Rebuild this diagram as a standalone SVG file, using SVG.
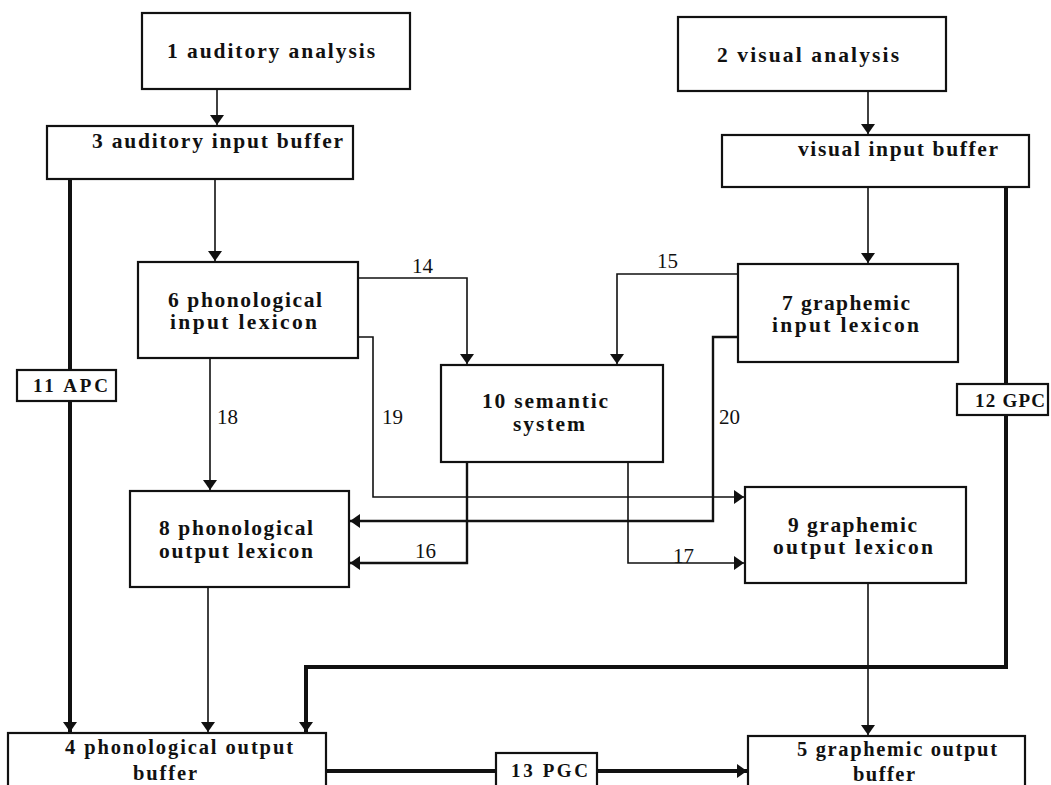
<svg xmlns="http://www.w3.org/2000/svg" width="1051" height="785" viewBox="0 0 1051 785">
  <style>
    .box { fill: #fff; stroke: #111; stroke-width: 2.2; }
    .lbl { font-family: "Liberation Serif", "Times New Roman", serif; font-weight: bold; font-size: 21.5px; fill: #111; }
    .tight { font-size: 20.5px; }
    .code { font-size: 19px; }
    .num { font-family: "Liberation Serif", "Times New Roman", serif; font-size: 21px; fill: #111; }
    .thin { fill: none; stroke: #111; stroke-width: 1.6; }
    .mid { fill: none; stroke: #111; stroke-width: 2.4; }
    .thick { fill: none; stroke: #111; stroke-width: 4; }
  </style>
  <defs>
    <marker id="head" viewBox="0 0 10 14" refX="10" refY="7" markerWidth="10" markerHeight="14" markerUnits="userSpaceOnUse" orient="auto">
      <path d="M0,0 L10,7 L0,14 z" fill="#111"/>
    </marker>
  </defs>
  <rect width="1051" height="785" fill="#fff"/>

  <!-- connectors -->
  <g id="connectors">
    <path class="thin" d="M217,89 V125" marker-end="url(#head)"/>
    <path class="thin" d="M215,179 V261" marker-end="url(#head)"/>
    <path class="thin" d="M868,91 V134" marker-end="url(#head)"/>
    <path class="thin" d="M868,187 V263" marker-end="url(#head)"/>
    <!-- 14 -->
    <path class="thin" d="M358,278 H467 V364" marker-end="url(#head)"/>
    <!-- 15 -->
    <path class="thin" d="M738,274 H617 V364" marker-end="url(#head)"/>
    <!-- 18 -->
    <path class="thin" d="M210,358 V490" marker-end="url(#head)"/>
    <!-- 19 -->
    <path class="thin" d="M358,337 H373 V497 H744" marker-end="url(#head)"/>
    <!-- 20 -->
    <path class="mid" d="M738,337 H713 V521 H350" marker-end="url(#head)"/>
    <!-- 16 -->
    <path class="mid" d="M467,462 V563 H350" marker-end="url(#head)"/>
    <!-- 17 -->
    <path class="thin" d="M628,462 V563 H744" marker-end="url(#head)"/>
    <!-- 8 to 4 -->
    <path class="thin" d="M208,587 V732" marker-end="url(#head)"/>
    <!-- 9 to 5 -->
    <path class="thin" d="M868,583 V735" marker-end="url(#head)"/>
    <!-- 11 APC -->
    <path class="thick" d="M70,179 V732" marker-end="url(#head)"/>
    <!-- 12 GPC -->
    <path class="thick" d="M1006,187 V667 H306 V732" marker-end="url(#head)"/>
    <!-- 13 PGC -->
    <path class="thick" d="M326,771 H496"/>
    <path class="thick" d="M597,771 H747" marker-end="url(#head)"/>
    <g class="num">
      <text x="412" y="273">14</text>
      <text x="657" y="268">15</text>
      <text x="217" y="424">18</text>
      <text x="382" y="424">19</text>
      <text x="719" y="424">20</text>
      <text x="415" y="558">16</text>
      <text x="673" y="563">17</text>
    </g>
  </g>

  <g id="n1">
    <rect class="box" x="142" y="13" width="268" height="76"/>
    <text class="lbl" x="167" y="58" textLength="208" lengthAdjust="spacing">1 auditory analysis</text>
  </g>
  <g id="n2">
    <rect class="box" x="678" y="17" width="268" height="74"/>
    <text class="lbl" x="717" y="62" textLength="182" lengthAdjust="spacing">2 visual analysis</text>
  </g>
  <g id="n3">
    <rect class="box" x="47" y="126" width="306" height="53"/>
    <text class="lbl" x="92" y="148" textLength="251" lengthAdjust="spacing">3 auditory input buffer</text>
  </g>
  <g id="nvib">
    <rect class="box" x="722" y="135" width="307" height="52"/>
    <text class="lbl" x="798" y="156" textLength="200" lengthAdjust="spacing">visual input buffer</text>
  </g>
  <g id="n6">
    <rect class="box" x="138" y="262" width="220" height="96"/>
    <text class="lbl" x="168" y="307" textLength="154" lengthAdjust="spacing">6 phonological</text>
    <text class="lbl" x="170" y="329" textLength="147" lengthAdjust="spacing">input lexicon</text>
  </g>
  <g id="n7">
    <rect class="box" x="738" y="264" width="220" height="98"/>
    <text class="lbl" x="782" y="310" textLength="128" lengthAdjust="spacing">7 graphemic</text>
    <text class="lbl" x="772" y="332" textLength="147" lengthAdjust="spacing">input lexicon</text>
  </g>
  <g id="n10">
    <rect class="box" x="441" y="365" width="222" height="97"/>
    <text class="lbl" x="482" y="408" textLength="126" lengthAdjust="spacing">10 semantic</text>
    <text class="lbl" x="513" y="431" textLength="72" lengthAdjust="spacing">system</text>
  </g>
  <g id="n11">
    <rect class="box" x="17" y="370" width="99" height="31"/>
    <text class="lbl code" x="33" y="392" textLength="75" lengthAdjust="spacing">11 APC</text>
  </g>
  <g id="n12">
    <rect class="box" x="957" y="384" width="91" height="31"/>
    <text class="lbl code" x="975" y="407" textLength="70" lengthAdjust="spacing">12 GPC</text>
  </g>
  <g id="n8">
    <rect class="box" x="130" y="491" width="219" height="96"/>
    <text class="lbl" x="159" y="535" textLength="154" lengthAdjust="spacing">8 phonological</text>
    <text class="lbl" x="159" y="558" textLength="154" lengthAdjust="spacing">output lexicon</text>
  </g>
  <g id="n9">
    <rect class="box" x="745" y="487" width="221" height="96"/>
    <text class="lbl" x="788" y="532" textLength="129" lengthAdjust="spacing">9 graphemic</text>
    <text class="lbl" x="773" y="554" textLength="160" lengthAdjust="spacing">output lexicon</text>
  </g>
  <g id="n4">
    <rect class="box" x="8" y="733" width="318" height="60"/>
    <text class="lbl tight" x="65" y="754" textLength="228" lengthAdjust="spacing">4 phonological output</text>
    <text class="lbl tight" x="133" y="780" textLength="64" lengthAdjust="spacing">buffer</text>
  </g>
  <g id="n13">
    <rect class="box" x="496" y="753" width="101" height="40"/>
    <text class="lbl code" x="511" y="777" textLength="77" lengthAdjust="spacing">13 PGC</text>
  </g>
  <g id="n5">
    <rect class="box" x="748" y="736" width="277" height="57"/>
    <text class="lbl tight" x="797" y="756" textLength="200" lengthAdjust="spacing">5 graphemic output</text>
    <text class="lbl tight" x="853" y="781" textLength="62" lengthAdjust="spacing">buffer</text>
  </g>
</svg>
